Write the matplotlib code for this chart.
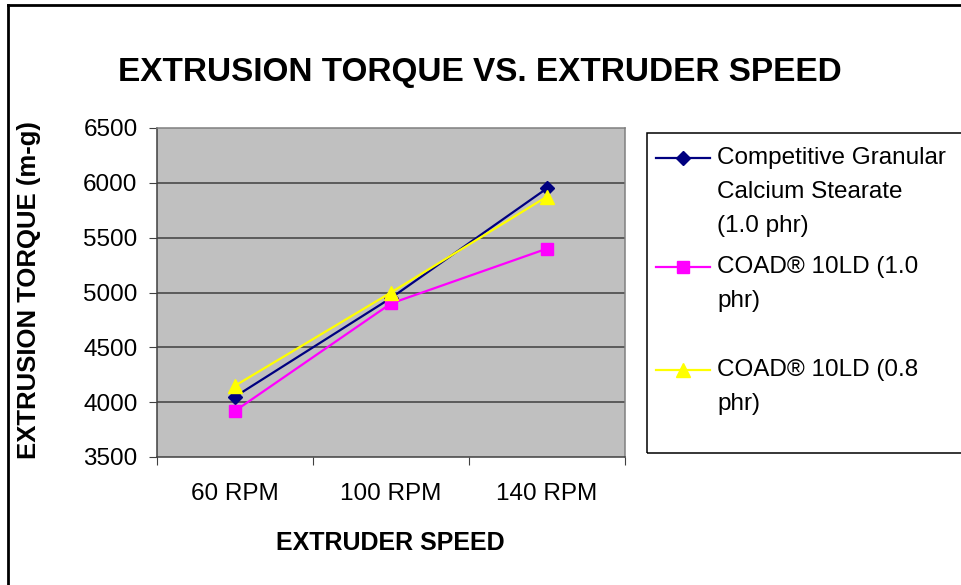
import matplotlib
matplotlib.use("Agg")
import matplotlib.pyplot as plt
from matplotlib.lines import Line2D
from matplotlib.patches import Rectangle

plt.rcParams['font.family'] = ['Liberation Sans', 'DejaVu Sans']

speeds = ['60 RPM', '100 RPM', '140 RPM']
granular = [4050, 4950, 5950]
coad_10 = [3920, 4900, 5400]
coad_08 = [4150, 5000, 5875]
labels = ['Competitive Granular\nCalcium Stearate\n(1.0 phr)',
          'COAD® 10LD (1.0\nphr)',
          'COAD® 10LD (0.8\nphr)']
yticks = [3500, 4000, 4500, 5000, 5500, 6000, 6500]

W, H = 961, 585
fig = plt.figure(figsize=(W / 100, H / 100), dpi=100)
fig.patch.set_facecolor('white')

def fx(px):
    return px / W

def fy(py):
    return 1 - py / H

ax = fig.add_axes([fx(157), fy(457), fx(625) - fx(157), fy(128) - fy(457)])
ax.set_facecolor('#C0C0C0')

x = list(range(len(speeds)))
styles = [
    (granular, '#000080', 'D', 7),
    (coad_10, '#FF00FF', 's', 9),
    (coad_08, '#FFFF00', '^', 10),
]
for vals, col, mk, ms in styles:
    ax.plot(x, vals, color=col, marker=mk, markersize=ms, lw=1.6,
            markeredgecolor=col, zorder=3)

ax.set_xlim(-0.5, 2.5)
ax.set_ylim(3500, 6500)
ax.set_yticks(yticks)
ax.set_yticklabels([str(v) for v in yticks], fontsize=17.5)
ax.set_xticks([-0.5, 0.5, 1.5, 2.5])
ax.set_xticklabels([])
ax.set_xticks(x, minor=True)
ax.set_xticklabels(speeds, minor=True, fontsize=17.5)
ax.tick_params(axis='x', which='minor', length=0, pad=19)
ax.tick_params(axis='x', which='major', length=6, direction='out', color='#404040')
ax.tick_params(axis='y', length=6, direction='out', pad=8, color='#404040')

for v in yticks[1:-1]:
    ax.axhline(v, color='#404040', lw=1.1, zorder=1)
for s in ['left', 'bottom']:
    ax.spines[s].set_color('#404040')
    ax.spines[s].set_linewidth(1.1)
for s in ['top', 'right']:
    ax.spines[s].set_color('#808080')
    ax.spines[s].set_linewidth(1.1)

fig.text(fx(480), fy(73), 'EXTRUSION TORQUE VS. EXTRUDER SPEED',
         ha='center', va='center', fontsize=24, fontweight='bold')
fig.text(fx(29), fy(290), 'EXTRUSION TORQUE (m-g)', rotation=90,
         ha='center', va='center', fontsize=18.5, fontweight='bold')
fig.text(fx(390), fy(543), 'EXTRUDER SPEED',
         ha='center', va='center', fontsize=18, fontweight='bold')

# legend drawn by hand to keep the Excel layout
fig.add_artist(Rectangle((fx(647), fy(453)), fx(W + 5) - fx(647), fy(133) - fy(453),
                         transform=fig.transFigure, fill=False,
                         edgecolor='black', lw=1.1))
entry_y = [158, 267, 370]
for (vals, col, mk, ms), lab, ey in zip(styles, labels, entry_y):
    fig.add_artist(Line2D([fx(656), fx(710)], [fy(ey), fy(ey)], color=col, lw=1.6,
                          transform=fig.transFigure))
    fig.add_artist(Line2D([fx(683)], [fy(ey)], color=col, marker=mk, markersize=ms,
                          markeredgecolor=col, transform=fig.transFigure))
    for i, line in enumerate(lab.split('\n')):
        fig.text(fx(717), fy(ey + 34 * i), line, ha='left', va='center', fontsize=17.5)

# outer chart border (top and left visible)
fig.add_artist(Line2D([fx(8), fx(W + 5)], [fy(5), fy(5)], color='black', lw=2,
                      transform=fig.transFigure))
fig.add_artist(Line2D([fx(8), fx(8)], [fy(5), fy(H + 5)], color='black', lw=2,
                      transform=fig.transFigure))

fig.savefig('out.png', dpi=100)
